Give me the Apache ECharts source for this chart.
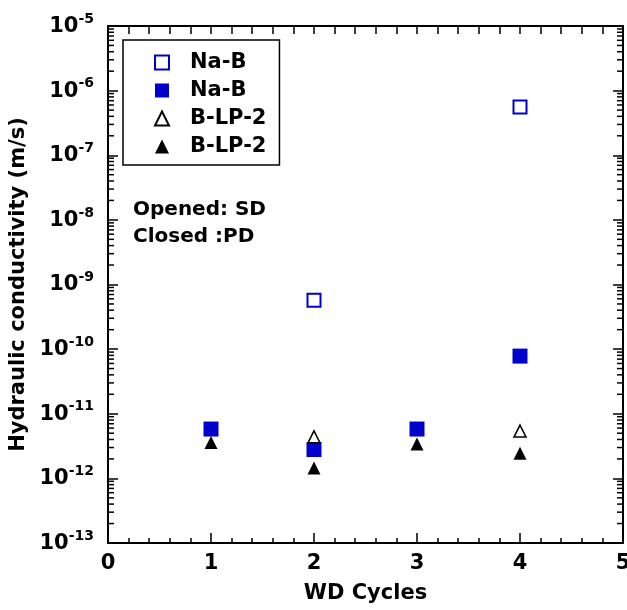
<!DOCTYPE html>
<html>
<head>
<meta charset="utf-8">
<script src="https://cdn.jsdelivr.net/npm/echarts@6/dist/echarts.min.js"></script>
<style>
  html, body { margin: 0; padding: 0; background: #fff; }
  #chart { width: 627px; height: 610px; }
</style>
</head>
<body>
<div id="chart"></div>
<script>
// data
const cycles = [1, 2, 3, 4]
const cyclesOpen = [2, 4]
const naB_SD = [5.7e-10, 5.6e-7]
const naB_PD = [5.8e-12, 2.8e-12, 5.8e-12, 7.8e-11]
const blp_SD = [4.4e-12, 5.4e-12]
const blp_PD = [3.6e-12, 1.45e-12, 3.4e-12, 2.45e-12]
const yExps = [-13, -12, -11, -10, -9, -8, -7, -6, -5]
const xTicks = [0, 1, 2, 3, 4, 5]
const notes = ["Opened: SD", "Closed :PD"]

const font = "DejaVu Sans"
const blue = "#0000cc"
const xMin = xTicks[0]
const xMax = xTicks[xTicks.length - 1]

// log minor ticks (2..9 per decade) for both frame sides
let minorTicks = []
for (let i = 0; i < yExps.length - 1; i++) {
  for (let k = 2; k <= 9; k++) {
    let v = k * Math.pow(10, yExps[i])
    minorTicks.push([xMin, v], [xMax, v])
  }
}

function pairs(xs, ys) {
  return xs.map((x, i) => [x, ys[i]])
}

let myChart = echarts.init(document.getElementById("chart"))

const majorY = (pos, labels) => ({
  type: "log",
  logBase: 10,
  position: pos,
  min: Math.pow(10, yExps[0]),
  max: Math.pow(10, yExps[yExps.length - 1]),
  name: labels ? "Hydraulic conductivity (m/s)" : "",
  nameLocation: "middle",
  nameGap: 66,
  nameTextStyle: { fontSize: 21, fontWeight: "bold", fontFamily: font, color: "#000" },
  axisLine: { show: true, onZero: false, lineStyle: { color: "#000", width: 2 } },
  axisTick: { inside: true, length: 10, lineStyle: { color: "#000", width: 1.5 } },
  splitLine: { show: false },
  axisLabel: {
    show: labels,
    margin: 14,
    formatter: function (v) {
      let e = Math.round(Math.log10(v))
      return "{b|10}{s|" + e + "}"
    },
    rich: {
      b: { fontSize: 21, fontWeight: "bold", fontFamily: font, color: "#000", verticalAlign: "bottom", lineHeight: 22 },
      s: { fontSize: 14, fontWeight: "bold", fontFamily: font, color: "#000", verticalAlign: "bottom", lineHeight: 14, padding: [0, 0, 11, 0] }
    }
  }
})

const xAxisOf = (pos, labels) => ({
  type: "value",
  position: pos,
  min: xMin,
  max: xMax,
  interval: 1,
  name: labels ? "WD Cycles" : "",
  nameLocation: "middle",
  nameGap: 40,
  nameTextStyle: { fontSize: 21, fontWeight: "bold", fontFamily: font, color: "#000" },
  axisLine: { show: true, onZero: false, lineStyle: { color: "#000", width: 2 } },
  axisTick: { inside: true, length: labels ? 10 : 8, lineStyle: { color: "#000", width: 1.5 } },
  minorTick: { show: true, splitNumber: 5, length: labels ? 5 : 8, lineStyle: { color: "#000", width: 1.5 } },
  splitLine: { show: false },
  axisLabel: {
    show: labels,
    margin: 10,
    showMinLabel: true,
    showMaxLabel: true,
    fontSize: 21,
    fontWeight: "bold",
    fontFamily: font,
    color: "#000"
  }
})

myChart.setOption({
  animation: false,
  backgroundColor: "#fff",
  grid: { left: 108, right: 4, top: 26, bottom: 67, outerBoundsMode: "none" },
  xAxis: [xAxisOf("bottom", true), xAxisOf("top", false)],
  yAxis: [majorY("left", true), majorY("right", false)],
  legend: {
    orient: "vertical",
    left: 123,
    top: 40,
    padding: [12, 13, 8, 31],
    itemGap: 7,
    itemWidth: 14,
    itemHeight: 14,
    borderColor: "#000",
    borderWidth: 1.5,
    textStyle: { fontSize: 21, fontWeight: "bold", fontFamily: font, color: "#000", padding: [0, 0, 0, 16] },
    formatter: function (name) { return name.split(" ")[0] },
    data: ["Na-B SD", "Na-B PD", "B-LP-2 SD", "B-LP-2 PD"]
  },
  graphic: [
    {
      type: "text", left: 133, top: 200,
      style: { text: notes[0], font: "bold 20px " + font, fill: "#000" }
    },
    {
      type: "text", left: 133, top: 227,
      style: { text: notes[1], font: "bold 20px " + font, fill: "#000" }
    }
  ],
  series: [
    {
      // log minor ticks on the left and right frame
      type: "custom",
      z: 10,
      data: minorTicks,
      renderItem: function (params, api) {
        let side = api.value(0)
        let p = api.coord([side, api.value(1)])
        let dir = side === xMin ? 1 : -1
        return {
          type: "line",
          shape: { x1: p[0], y1: p[1], x2: p[0] + dir * 6, y2: p[1] },
          style: { stroke: "#000", lineWidth: 1.5 }
        }
      }
    },
    {
      name: "Na-B SD",
      type: "scatter",
      symbol: "rect",
      symbolSize: 13,
      itemStyle: { color: "#fff", borderColor: blue, borderWidth: 2, opacity: 1 },
      data: pairs(cyclesOpen, naB_SD)
    },
    {
      name: "Na-B PD",
      type: "scatter",
      symbol: "rect",
      symbolSize: 15,
      itemStyle: { color: blue, opacity: 1 },
      data: pairs(cycles, naB_PD)
    },
    {
      name: "B-LP-2 SD",
      type: "scatter",
      symbol: "triangle",
      symbolSize: 12,
      itemStyle: { color: "#fff", borderColor: "#000", borderWidth: 1.5, opacity: 1 },
      data: pairs(cyclesOpen, blp_SD)
    },
    {
      name: "B-LP-2 PD",
      type: "scatter",
      symbol: "triangle",
      symbolSize: 13,
      itemStyle: { color: "#000", opacity: 1 },
      data: pairs(cycles, blp_PD)
    }
  ]
})
</script>
</body>
</html>
